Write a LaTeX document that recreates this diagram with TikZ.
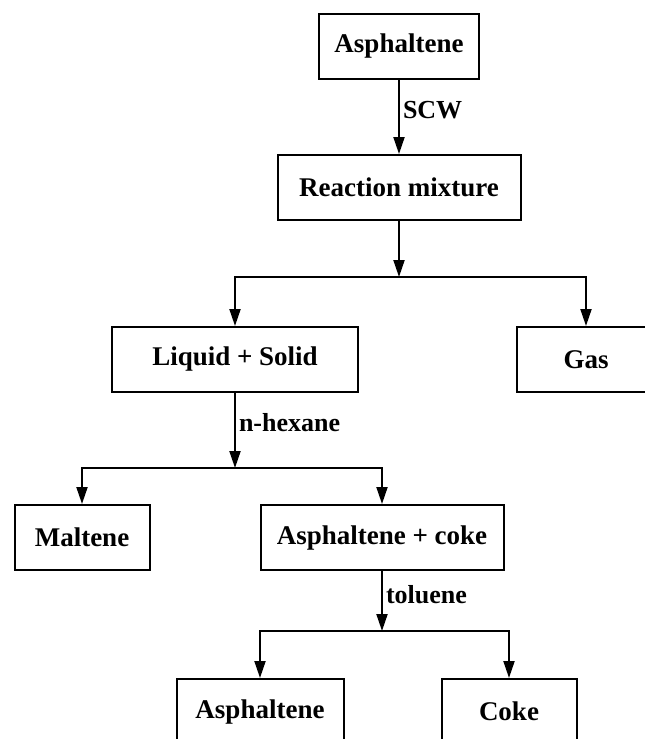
\documentclass[tikz,border=0pt]{standalone}
\usepackage{fontspec}
\setmainfont{Liberation Serif}
\usetikzlibrary{positioning, arrows.meta}
\tikzset{
    ->, % Directed edges
    >={Triangle[length=17pt, width=11pt]}, % Narrow arrowheads
    box/.style={draw, line width=2pt, minimum height=65pt, inner sep=0pt,
        font=\fontsize{27}{32}\selectfont\bfseries}, % Styling for boxes
    solvent/.style={right, inner sep=3pt, pos=0.4,
        font=\fontsize{26}{30}\selectfont\bfseries}, % Labels on arrows
}
\begin{document}
\begin{tikzpicture}[line width=2pt, on grid]
    \useasboundingbox (0,0) rectangle (645pt,-739pt);
    \clip (0,0) rectangle (645pt,-739pt);
    % Boxes
    \node[box, minimum width=160pt] (asph0) at (399pt,-46.5pt) {Asphaltene};
    \node[box, minimum width=243pt] (mix) [below=141pt of asph0] {Reaction mixture};
    \node[box, minimum width=246pt] (liqsol) [below left=172pt and 164pt of mix] {Liquid + Solid};
    \node[box, minimum width=138pt] (gas) [right=351pt of liqsol] {Gas};
    \node[box, minimum width=135pt] (malt) [below left=178pt and 153pt of liqsol] {Maltene};
    \node[box, minimum width=243pt] (asphcoke) [right=300pt of malt] {Asphaltene + coke};
    \node[box, minimum width=167pt] (asph1) [below left=174pt and 122pt of asphcoke] {Asphaltene};
    \node[box, minimum width=135pt] (coke) [right=249pt of asph1] {Coke};

    % Branch points
    \coordinate[below=56pt of mix.south] (split1);
    \coordinate[below=75pt of liqsol.south] (split2);
    \coordinate[below=60pt of asphcoke.south] (split3);

    % Connectors
    \draw (asph0) -- node[solvent] {SCW} (mix);
    \draw (mix) -- (split1);
    \draw (split1) -| (liqsol);
    \draw (split1) -| (gas);
    \draw (liqsol) -- node[solvent] {n-hexane} (split2);
    \draw (split2) -| (malt);
    \draw (split2) -| (asphcoke);
    \draw (asphcoke) -- node[solvent] {toluene} (split3);
    \draw (split3) -| (asph1);
    \draw (split3) -| (coke);
\end{tikzpicture}
\end{document}
